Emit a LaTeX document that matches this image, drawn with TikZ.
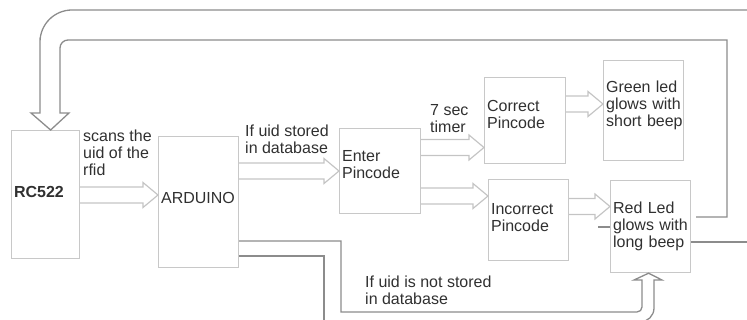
\documentclass[tikz,border=0pt]{standalone}
\usepackage{fontspec}
\setmainfont{Liberation Sans}
\usetikzlibrary{calc}

\definecolor{boxgray}{HTML}{C8C8C8}
\definecolor{arrowgray}{HTML}{C4C4C4}
\definecolor{linkgray}{HTML}{8C8C8C}
\definecolor{txtgray}{HTML}{303030}

% hollow arrow: from node, to node, y
\newcommand{\hollowarrow}[3]{%
	\draw[hollow] ($(#1.east |- 0,#3)+(0,-8)$) -- ($(#2.west |- 0,#3)+(-15,-8)$) -- ++(0,-4.5)
	-- (#2.west |- 0,#3) -- ($(#2.west |- 0,#3)+(-15,12.5)$) -- ++(0,-4.5) -- ($(#1.east |- 0,#3)+(0,8)$);}

\begin{document}
\begin{tikzpicture}
	[x=1pt, y=-1pt, font=\fontsize{16}{17}\selectfont, text=txtgray,
	box/.style={draw=boxgray, line width=1.2pt, anchor=north west, align=left, inner xsep=2.5pt, inner ysep=0pt},
	lift/.style={execute at end node={\endgraf\vspace{#1}}},
	hollow/.style={draw=arrowgray, line width=1.2pt},
	link/.style={draw=linkgray, line width=1.3pt},
	note/.style={anchor=north west, align=left, inner sep=0pt}]
	\useasboundingbox (0,0) rectangle (747,320);
	\node[box, lift=5pt, text width=63pt, minimum height=128pt] (rc) at (11,130) {\bfseries RC522};
	\node[box, lift=8pt, text width=75pt, minimum height=131pt] (ard) at (158,136) {ARDUINO};
	\node[box, lift=13pt, text width=76pt, minimum height=85pt] (enter) at (339,128) {Enter\\Pincode};
	\node[box, lift=12pt, text width=76pt, minimum height=86pt] (correct) at (484,77) {Correct\\Pincode};
	\node[box, lift=10pt, text width=75pt, minimum height=100pt] (green) at (603,60) {Green led\\glows with\\short~beep};
	\node[box, lift=6pt, text width=75pt, minimum height=81pt] (incorrect) at (488,179) {Incorrect\\Pincode};
	\node[box, text width=75pt, minimum height=92pt] (red) at (610,180) {Red Led\\glows with\\long beep};
	\node[note] (scan) at (83,129.4) {scans the\\uid of the\\rfid};
	\node[note] (stored) at (245,125) {If uid stored\\in database};
	\node[note] (timer) at (430,104.4) {7 sec\\timer};
	\node[note] (notstored) at (365,275.4) {If uid is not stored\\in database};
	\hollowarrow{rc}{ard}{195}
	\hollowarrow{ard}{enter}{171}
	\hollowarrow{enter}{correct}{147.5}
	\hollowarrow{enter}{incorrect}{196}
	\hollowarrow{correct}{green}{104}
	\hollowarrow{incorrect}{red}{206.5}
	% loop back to the reader
	\coordinate (looptip) at ($(rc.north)+(5,0)$);
	\draw[link] (760,10) [rounded corners=32pt] -- (40,10) -- (40,70) [sharp corners] -- (40,113)
	-- (31,113) -- (looptip) -- (69,113) -- (60,113) -- (60,100) [rounded corners=8pt] -- (60,40)
	-- (100,40) [sharp corners] -- (727,40) -- (727,217) -- ($(red.east |- 0,217)+(5,0)$);
	\draw[link] (red.east |- 0,242) -- (760,242);
	\draw[link] (red.west |- 0,227) -- ++(-12,0);
	% uid not stored
	\coordinate (bottomtip) at ($(red.south)+(-2,0)$);
	\draw[link] (ard.east |- 0,241) -- (341,241) -- (341,312) -- (400,312) [rounded corners=5pt] -- (642,312)
	-- (642,295) [sharp corners] -- (642,280) -- (634,280) -- (bottomtip) -- (662,280) -- (654,280)
	-- (654,300) [rounded corners=14pt] -- (654,322) -- (630,322);
	\draw[link] (ard.east |- 0,256) -- (324,256) -- (324,330);
\end{tikzpicture}
\end{document}
